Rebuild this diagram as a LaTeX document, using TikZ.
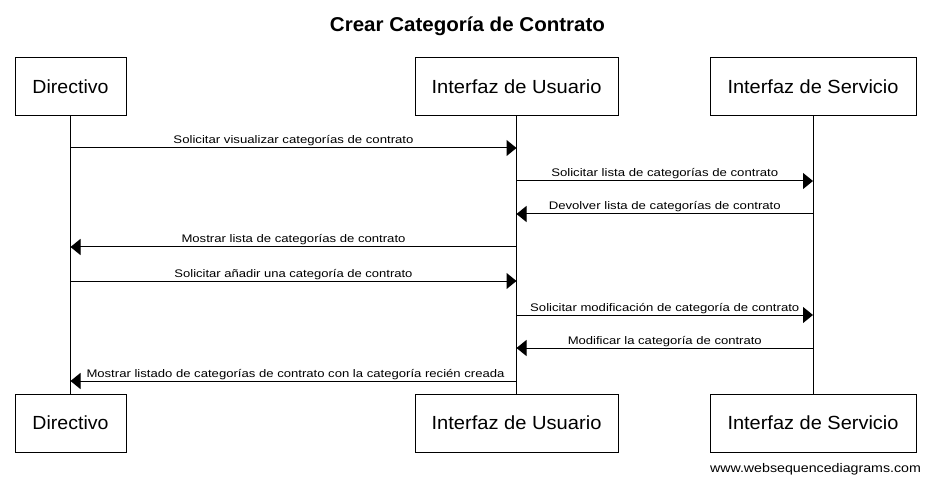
\documentclass[tikz,border=0pt]{standalone}
\usepackage{fontspec}
\setmainfont{Liberation Sans}
\usepackage{graphicx}
\usetikzlibrary{arrows.meta}
\newcommand{\fitw}[2]{\resizebox{#1pt}{\height}{#2}}
\begin{document}
\begin{tikzpicture}[x=1pt,y=-1pt,
  part/.style={draw, line width=1pt, minimum height=58pt, inner sep=0pt, font=\fontsize{19}{20}\selectfont},
  life/.style={line width=1pt},
  msg/.style={line width=1pt, -{Triangle[length=10pt,width=16pt]}},
  lbl/.style={anchor=base, inner sep=0pt, yshift=4pt, font=\fontsize{11}{12}\selectfont}]
\useasboundingbox[fill=white] (0,0) rectangle (931,486);
\node[anchor=base, inner sep=0pt, font=\fontsize{20}{22}\selectfont\bfseries] (title) at (467.5,31.7) {\fitw{275}{Crear Categoría de Contrato}};
% participants
\node[part, minimum width=111pt] (d1) at (70.5,87) {\fitw{76}{Directivo}};
\node[part, minimum width=203pt] (u1) at (516.5,87) {\fitw{170}{Interfaz de Usuario}};
\node[part, minimum width=206pt] (s1) at (813,87) {\fitw{171}{Interfaz de Servicio}};
\node[part, minimum width=111pt] (d2) at (70.5,423) {\fitw{76}{Directivo}};
\node[part, minimum width=203pt] (u2) at (516.5,423) {\fitw{170}{Interfaz de Usuario}};
\node[part, minimum width=206pt] (s2) at (813,423) {\fitw{171}{Interfaz de Servicio}};
\draw[life] (d1.south) -- (d2.north);
\draw[life] (u1.south) -- (u2.north);
\draw[life] (s1.south) -- (s2.north);
% message end points
\coordinate (d148) at (70.5,148); \coordinate (u148) at (516.5,148);
\coordinate (u181) at (516.5,181); \coordinate (s181) at (813,181);
\coordinate (s214) at (813,214); \coordinate (u214) at (516.5,214);
\coordinate (u247) at (516.5,247); \coordinate (d247) at (70.5,247);
\coordinate (d281) at (70.5,281); \coordinate (u281) at (516.5,281);
\coordinate (u315) at (516.5,315); \coordinate (s315) at (813,315);
\coordinate (s348) at (813,348); \coordinate (u348) at (516.5,348);
\coordinate (u381) at (516.5,381); \coordinate (d381) at (70.5,381);
\draw[msg] (d148) -- (u148) node[lbl, midway] (l1) {\fitw{240}{Solicitar visualizar categorías de contrato}};
\draw[msg] (u181) -- (s181) node[lbl, midway] (l2) {\fitw{227}{Solicitar lista de categorías de contrato}};
\draw[msg] (s214) -- (u214) node[lbl, midway] (l3) {\fitw{232}{Devolver lista de categorías de contrato}};
\draw[msg] (u247) -- (d247) node[lbl, midway] (l4) {\fitw{224}{Mostrar lista de categorías de contrato}};
\draw[msg] (d281) -- (u281) node[lbl, midway] (l5) {\fitw{238}{Solicitar añadir una categoría de contrato}};
\draw[msg] (u315) -- (s315) node[lbl, midway] (l6) {\fitw{269}{Solicitar modificación de categoría de contrato}};
\draw[msg] (s348) -- (u348) node[lbl, midway] (l7) {\fitw{194}{Modificar la categoría de contrato}};
\draw[msg] (u381) -- (d381) node[lbl, midway, xshift=2pt] (l8) {\fitw{418}{Mostrar listado de categorías de contrato con la categoría recién creada}};
\node[anchor=base, inner sep=0pt, font=\fontsize{12.5}{14}\selectfont] (wm) at (815.5,472) {\fitw{211}{www.websequencediagrams.com}};
\end{tikzpicture}
\end{document}
